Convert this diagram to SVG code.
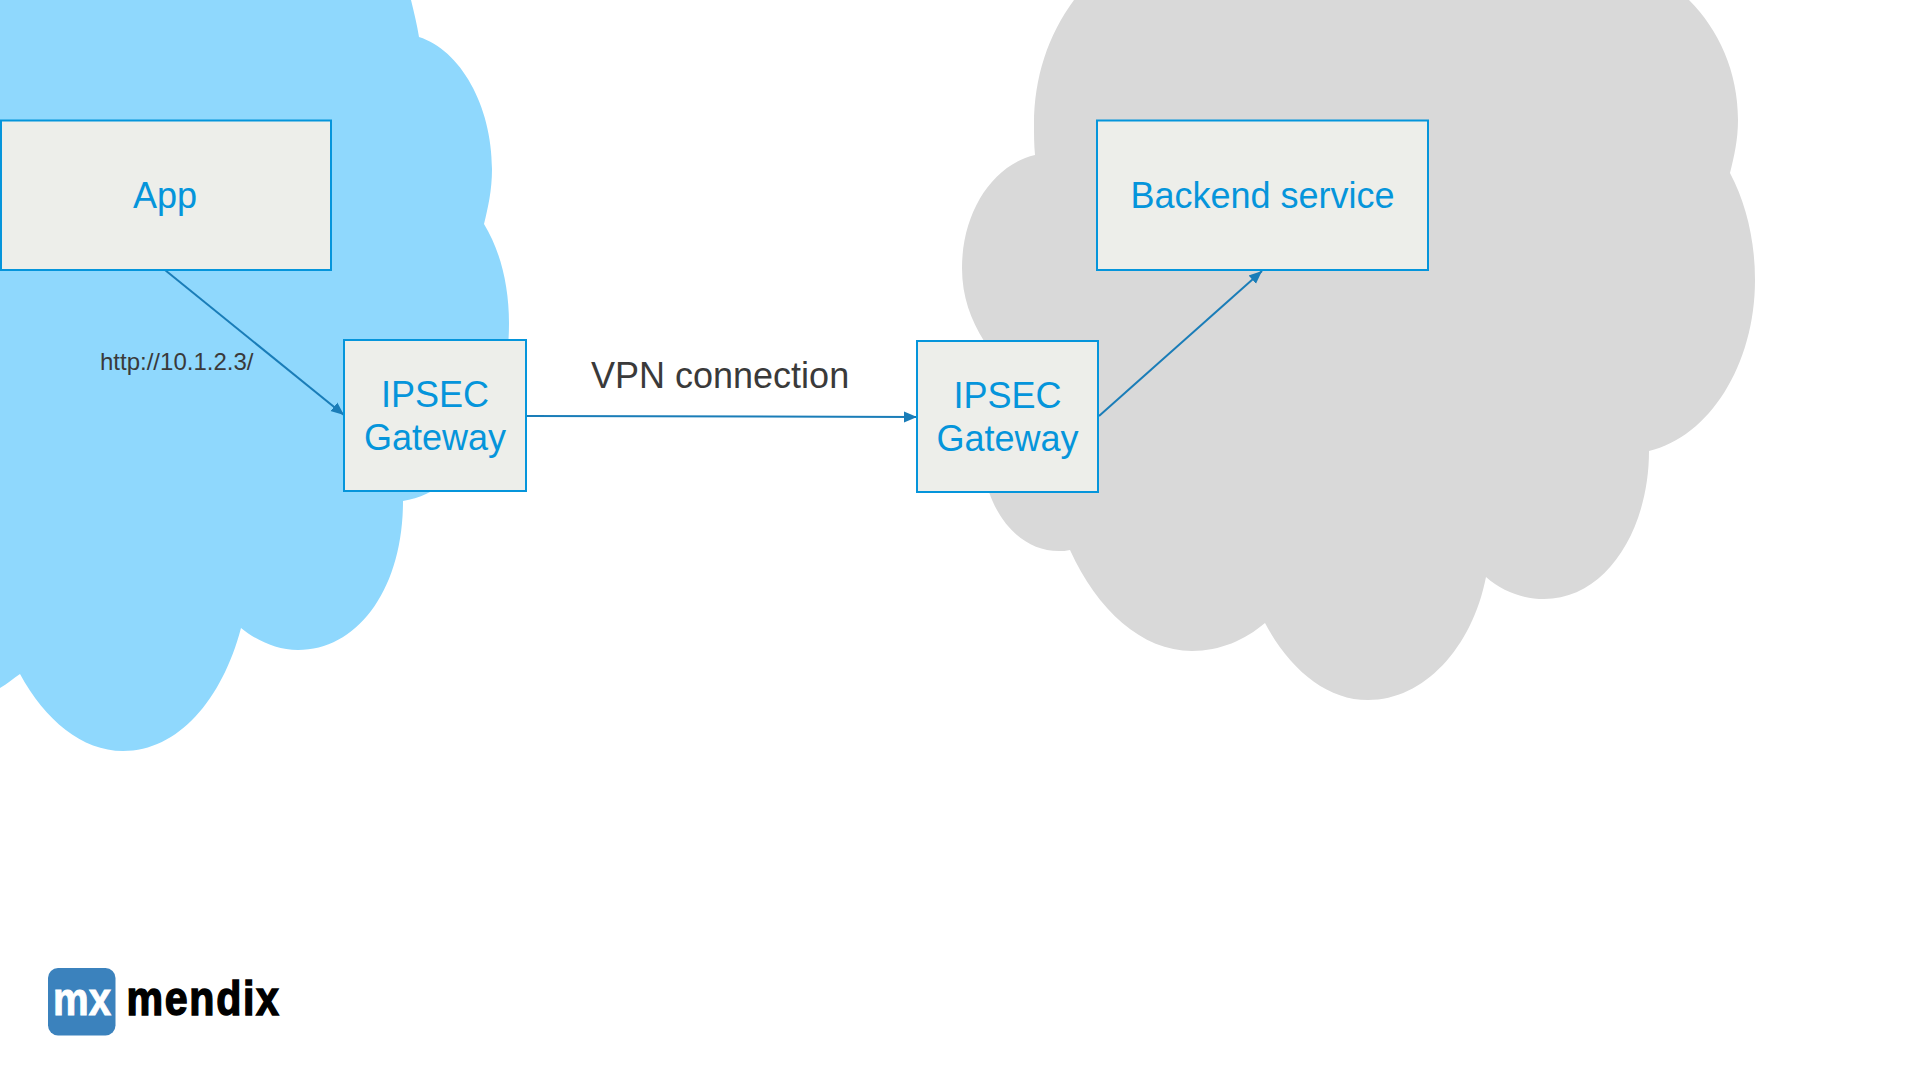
<svg xmlns="http://www.w3.org/2000/svg" width="1920" height="1080" viewBox="0 0 1920 1080">
<style>
.box{fill:#EDEEEA;stroke:#0595DB;stroke-width:2}
.label{font-family:"Liberation Sans",Arial,sans-serif;font-size:36px;fill:#0595DB;text-anchor:middle}
.note{font-family:"Liberation Sans",Arial,sans-serif;fill:#3A3A3A}
.conn{fill:none;stroke:#1A7DB8;stroke-width:2;marker-end:url(#arrow)}
</style>
<defs>
<marker id="arrow" markerUnits="userSpaceOnUse" markerWidth="14" markerHeight="14" refX="13" refY="7" orient="auto">
<path d="M0,1.500 L13,7 L0,12.500 Z" fill="#1A7DB8"/>
</marker>
</defs>
<rect width="1920" height="1080" fill="#FFFFFF"/>
<path id="cloud-left" fill="#8FD8FD" d="M0,0 L411,0 C414,12 417,25 419,37 C460,50 492,105 492,169 C492,190 488,208 484,224 C500,250 509,285 509,323 C509,410 470,490 403,501 C403,590 357,650 298,650 C277,650 257,641 241,628 C222,700 178,751 123,751 C82,751 45,720 20,674 C14,678 7,684 0,688 Z"/>
<path id="cloud-right" fill="#D9D9D9" d="M1074,0 C1048,35 1034,78 1034,124 C1034,135 1034,145 1035,155 C992,165 962,213 962,268 C962,297 971,320 984,341 L989,492 C1001,527 1027,551 1059,551 C1063,551 1066,551 1070,550 C1097,610 1142,651 1192,651 C1220,651 1245,640 1265,623 C1290,670 1327,700 1368,700 C1424,700 1472,648 1486,577 C1502,591 1522,599 1544,599 C1606,599 1649,530 1649,451 C1709,437 1755,365 1755,280 C1755,240 1746,203 1730,173 C1734,157 1738,140 1738,120 C1738,72 1719,30 1689,0 Z"/>
<g id="connectors">
<line class="conn" x1="165" y1="270" x2="344" y2="415"/>
<line class="conn" x1="527" y1="416" x2="917" y2="417"/>
<line class="conn" x1="1099" y1="416" x2="1262" y2="271"/>
</g>
<g id="node-app">
<rect class="box" x="1" y="120.500" width="330" height="149.500"/>
<text class="label" x="165" y="208">App</text>
</g>
<g id="node-gateway-left">
<rect class="box" x="344" y="340" width="182" height="151"/>
<text class="label" x="435" y="407">IPSEC</text>
<text class="label" x="435" y="450">Gateway</text>
</g>
<g id="node-gateway-right">
<rect class="box" x="917" y="341" width="181" height="151"/>
<text class="label" x="1007.500" y="408">IPSEC</text>
<text class="label" x="1007.500" y="451">Gateway</text>
</g>
<g id="node-backend">
<rect class="box" x="1097" y="120.500" width="331" height="149.500"/>
<text class="label" x="1262.500" y="208">Backend service</text>
</g>
<text class="note" x="100" y="370" font-size="24">http://10.1.2.3/</text>
<text class="note" x="591" y="388" font-size="36">VPN connection</text>
<g id="logo">
<rect x="48" y="968" width="67.500" height="67.500" rx="10" fill="#3B82BD"/>
<text x="53" y="1015" font-family="'Liberation Sans',Arial,sans-serif" font-weight="bold" font-size="47" fill="#FFFFFF" stroke="#FFFFFF" stroke-width="1" textLength="58" lengthAdjust="spacingAndGlyphs">mx</text>
<text transform="translate(126.500,1015) scale(0.84,1)" font-family="'Liberation Sans',Arial,sans-serif" font-weight="bold" font-size="49" letter-spacing="2" fill="#000000" stroke="#000000" stroke-width="1.500">mendix</text>
</g>
</svg>
